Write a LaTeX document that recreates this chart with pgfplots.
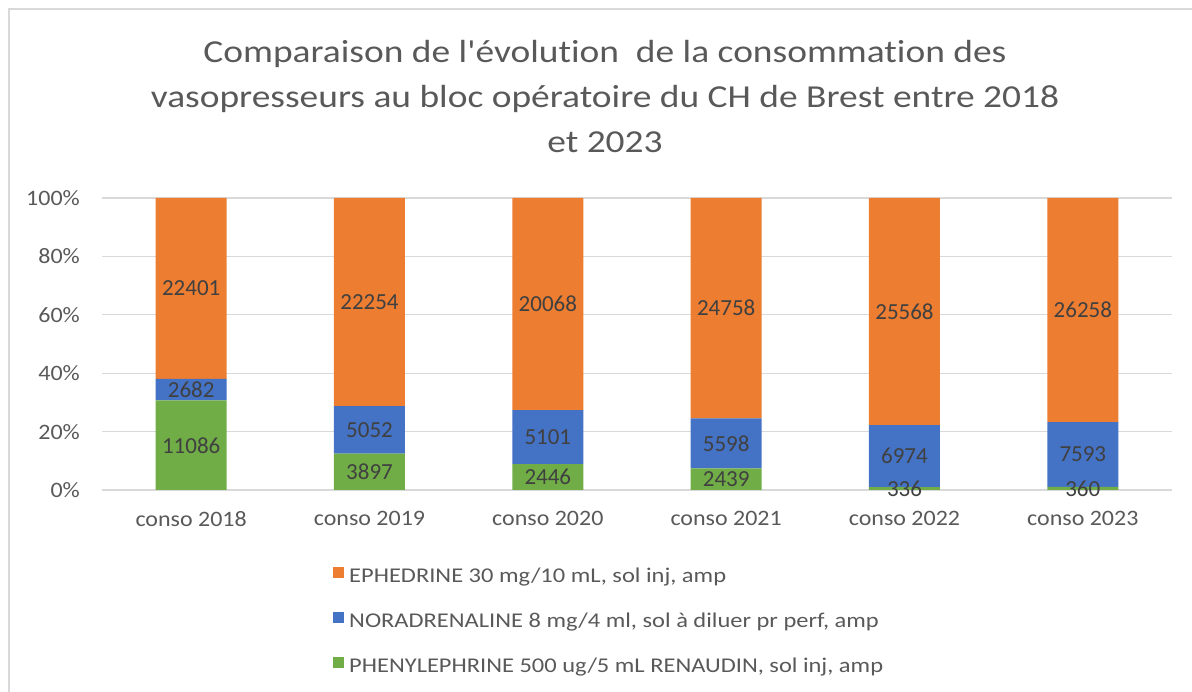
\documentclass[border=0pt]{standalone}
\usepackage{fontspec}
\setmainfont{Carlito}[Ligatures={NoCommon,NoRare,NoContextual}]
\newfontfamily\titlefont{Carlito}[FakeStretch=1.17,Ligatures={NoCommon,NoRare,NoContextual}]
\newfontfamily\tickfont{Carlito}[FakeStretch=1.09]
\newfontfamily\legfont{Carlito}[FakeStretch=1.165]
\usepackage{pgfplots}
\usepackage{pgfplotstable}
\pgfplotsset{compat=1.18}
\definecolor{cor}{HTML}{ED7D31}
\definecolor{cbl}{HTML}{4472C4}
\definecolor{cgr}{HTML}{70AD47}
\definecolor{txtg}{HTML}{595959}
\definecolor{lblg}{HTML}{404040}
\definecolor{gridg}{HTML}{D9D9D9}
\pgfplotstableread{
x phen nor eph
0 11086 2682 22401
1 3897 5052 22254
2 2446 5101 20068
3 2439 5598 24758
4 336 6974 25568
5 360 7593 26258
}\data
\begin{document}
\begin{tikzpicture}[x=1pt,y=1pt]
\path[use as bounding box] (0,0) rectangle (1192,692);
\draw[gridg, line width=1.2pt] (9,-5) -- (9,683) -- (1200,683);
\node[font=\titlefont\fontsize{32}{45}\selectfont, text=txtg, align=center] at (605,595)
 {Comparaison de l'évolution\ \ de la consommation des\\vasopresseurs au bloc opératoire du CH de Brest entre 2018\\et 2023};
\pgfplotsset{
 common/.style={
  at={(102pt,202pt)}, anchor=south west,
  scale only axis, width=1070pt, height=292pt,
  xmin=-0.5, xmax=5.5, ymin=0, ymax=100,
 }
}
\begin{axis}[common,
 ybar stacked, bar width=71pt,
 axis line style={draw=none},
 major tick length=0pt,
 /pgf/number format/assume math mode=true,
 ytick={0,20,40,60,80,100},
 yticklabel={\pgfmathprintnumber{\tick}\%},
 xtick=data,
 xticklabels={conso 2018,conso 2019,conso 2020,conso 2021,conso 2022,conso 2023},
 ymajorgrids, grid style={gridg, line width=1.2pt},
 tick label style={font=\tickfont\fontsize{22}{26}\selectfont, text=txtg, inner sep=0pt},
 yticklabel style={xshift=-22pt},
 xticklabel style={yshift=-21pt},
 reverse legend,
 legend cell align=left,
 legend image code/.code={\fill[#1] (0pt,-1pt) rectangle (11pt,10pt);},
 legend style={at={(rel axis cs:0.2159,-0.2637)}, anchor=north west, draw=none, fill=none,
   font=\legfont\fontsize{21}{25}\selectfont, text=txtg, inner sep=0pt, row sep=26pt,
   nodes={inner sep=0pt, text height=14pt, text depth=4pt},
   /tikz/every odd column/.style={column sep=5pt}},
]
\addplot[fill=cgr, draw=none] table[x=x, y expr={\thisrow{phen}/(\thisrow{phen}+\thisrow{nor}+\thisrow{eph})*100}] {\data};
\addlegendentry{PHENYLEPHRINE 500 ug/5 mL RENAUDIN, sol inj, amp}
\addplot[fill=cbl, draw=none] table[x=x, y expr={\thisrow{nor}/(\thisrow{phen}+\thisrow{nor}+\thisrow{eph})*100}] {\data};
\addlegendentry{NORADRENALINE 8 mg/4 ml, sol à diluer pr perf, amp}
\addplot[fill=cor, draw=none] table[x=x, y expr={\thisrow{eph}/(\thisrow{phen}+\thisrow{nor}+\thisrow{eph})*100}] {\data};
\addlegendentry{EPHEDRINE 30 mg/10 mL, sol inj, amp}
\end{axis}
\begin{axis}[common, hide axis,
 nodes near coords, point meta=explicit symbolic,
 every node near coord/.style={anchor=center, font=\fontsize{23}{27}\selectfont, text=lblg, inner sep=0pt},
]
\addplot[draw=none] table[x=x, y expr={(\thisrow{phen}/2)/(\thisrow{phen}+\thisrow{nor}+\thisrow{eph})*100}, meta=phen] {\data};
\addplot[draw=none] table[x=x, y expr={(\thisrow{phen}+\thisrow{nor}/2)/(\thisrow{phen}+\thisrow{nor}+\thisrow{eph})*100}, meta=nor] {\data};
\addplot[draw=none] table[x=x, y expr={(\thisrow{phen}+\thisrow{nor}+\thisrow{eph}/2)/(\thisrow{phen}+\thisrow{nor}+\thisrow{eph})*100}, meta=eph] {\data};
\end{axis}
\end{tikzpicture}
\end{document}
